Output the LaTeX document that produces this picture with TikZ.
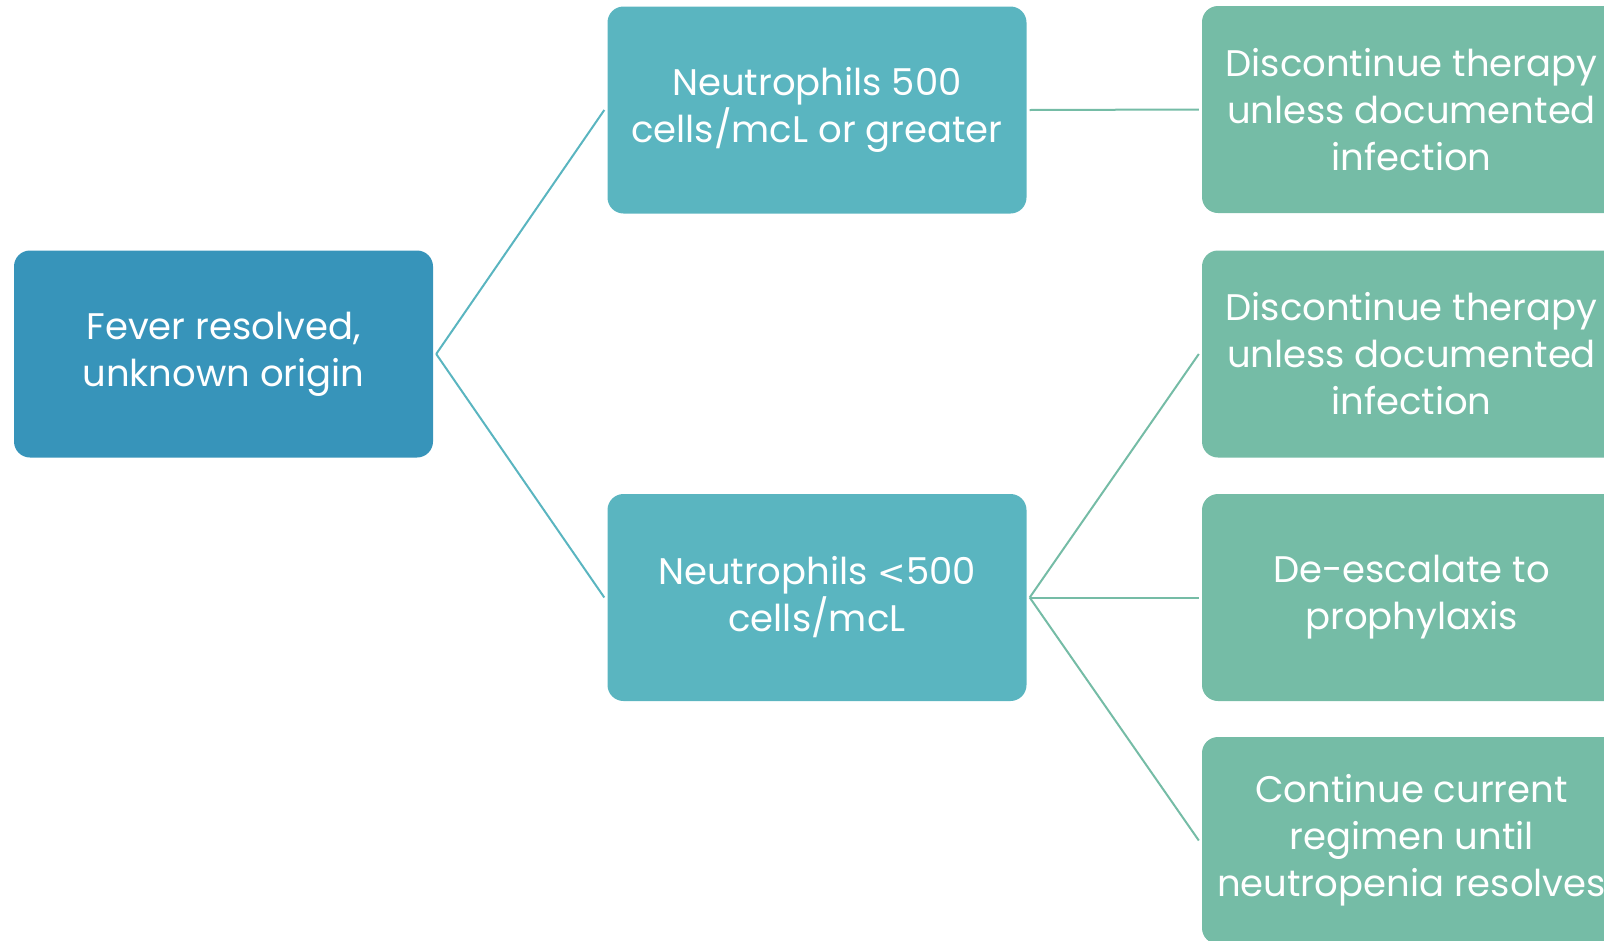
\documentclass[tikz,border=0pt]{standalone}
\usepackage{fontspec}
\setmainfont{Poppins}
\newfontfamily\symfont{DejaVu Sans}
\definecolor{cdark}{HTML}{3794BA}
\definecolor{cmid}{HTML}{5AB5C0}
\definecolor{cgreen}{HTML}{75BCA6}
\tikzset{
  box/.style={rounded corners=16pt, minimum width=419pt, minimum height=207pt, inner sep=0pt,
    text=white, align=center, font=\fontsize{37}{47}\selectfont},
  lbox/.style={box, fill=cdark},
  mbox/.style={box, fill=cmid},
  rbox/.style={box, fill=cgreen},
  lconn/.style={draw=cmid, line width=2pt},
  rconn/.style={draw=cgreen, line width=2pt},
}
\begin{document}
\begin{tikzpicture}[x=1pt,y=-1pt]
\useasboundingbox (0,0) rectangle (1604,940);
\clip (0,0) rectangle (1604,940);
\node[lbox] (root) at (223.5,354) {Fever resolved,\\unknown origin};
\node[mbox] (hi) at (817,110) {Neutrophils 500\\cells/mcL or greater};
\node[mbox] (lo) at (817,597.5) {Neutrophils {\symfont\fontsize{34}{47}\selectfont<}500\\cells/mcL};
\node[rbox] (r1) at (1411.5,109.5) {Discontinue therapy\\unless documented\\infection};
\node[rbox] (r2) at (1411.5,354) {Discontinue therapy\\unless documented\\infection};
\node[rbox] (r3) at (1411.5,597.5) {De-escalate to\\prophylaxis};
\node[rbox] (r4) at (1411.5,840.5) {Continue current\\regimen until\\neutropenia resolves};
\path[lconn] ([xshift=3pt]root.east) -- ([xshift=-3pt]hi.west);
\path[lconn] ([xshift=3pt]root.east) -- ([xshift=-3pt]lo.west);
\path[rconn] ([xshift=3pt]hi.east) -- ([xshift=-3pt]r1.west);
\path[rconn] ([xshift=3pt]lo.east) -- ([xshift=-3pt]r2.west);
\path[rconn] ([xshift=3pt]lo.east) -- ([xshift=-3pt]r3.west);
\path[rconn] ([xshift=3pt]lo.east) -- ([xshift=-3pt]r4.west);
\end{tikzpicture}
\end{document}
